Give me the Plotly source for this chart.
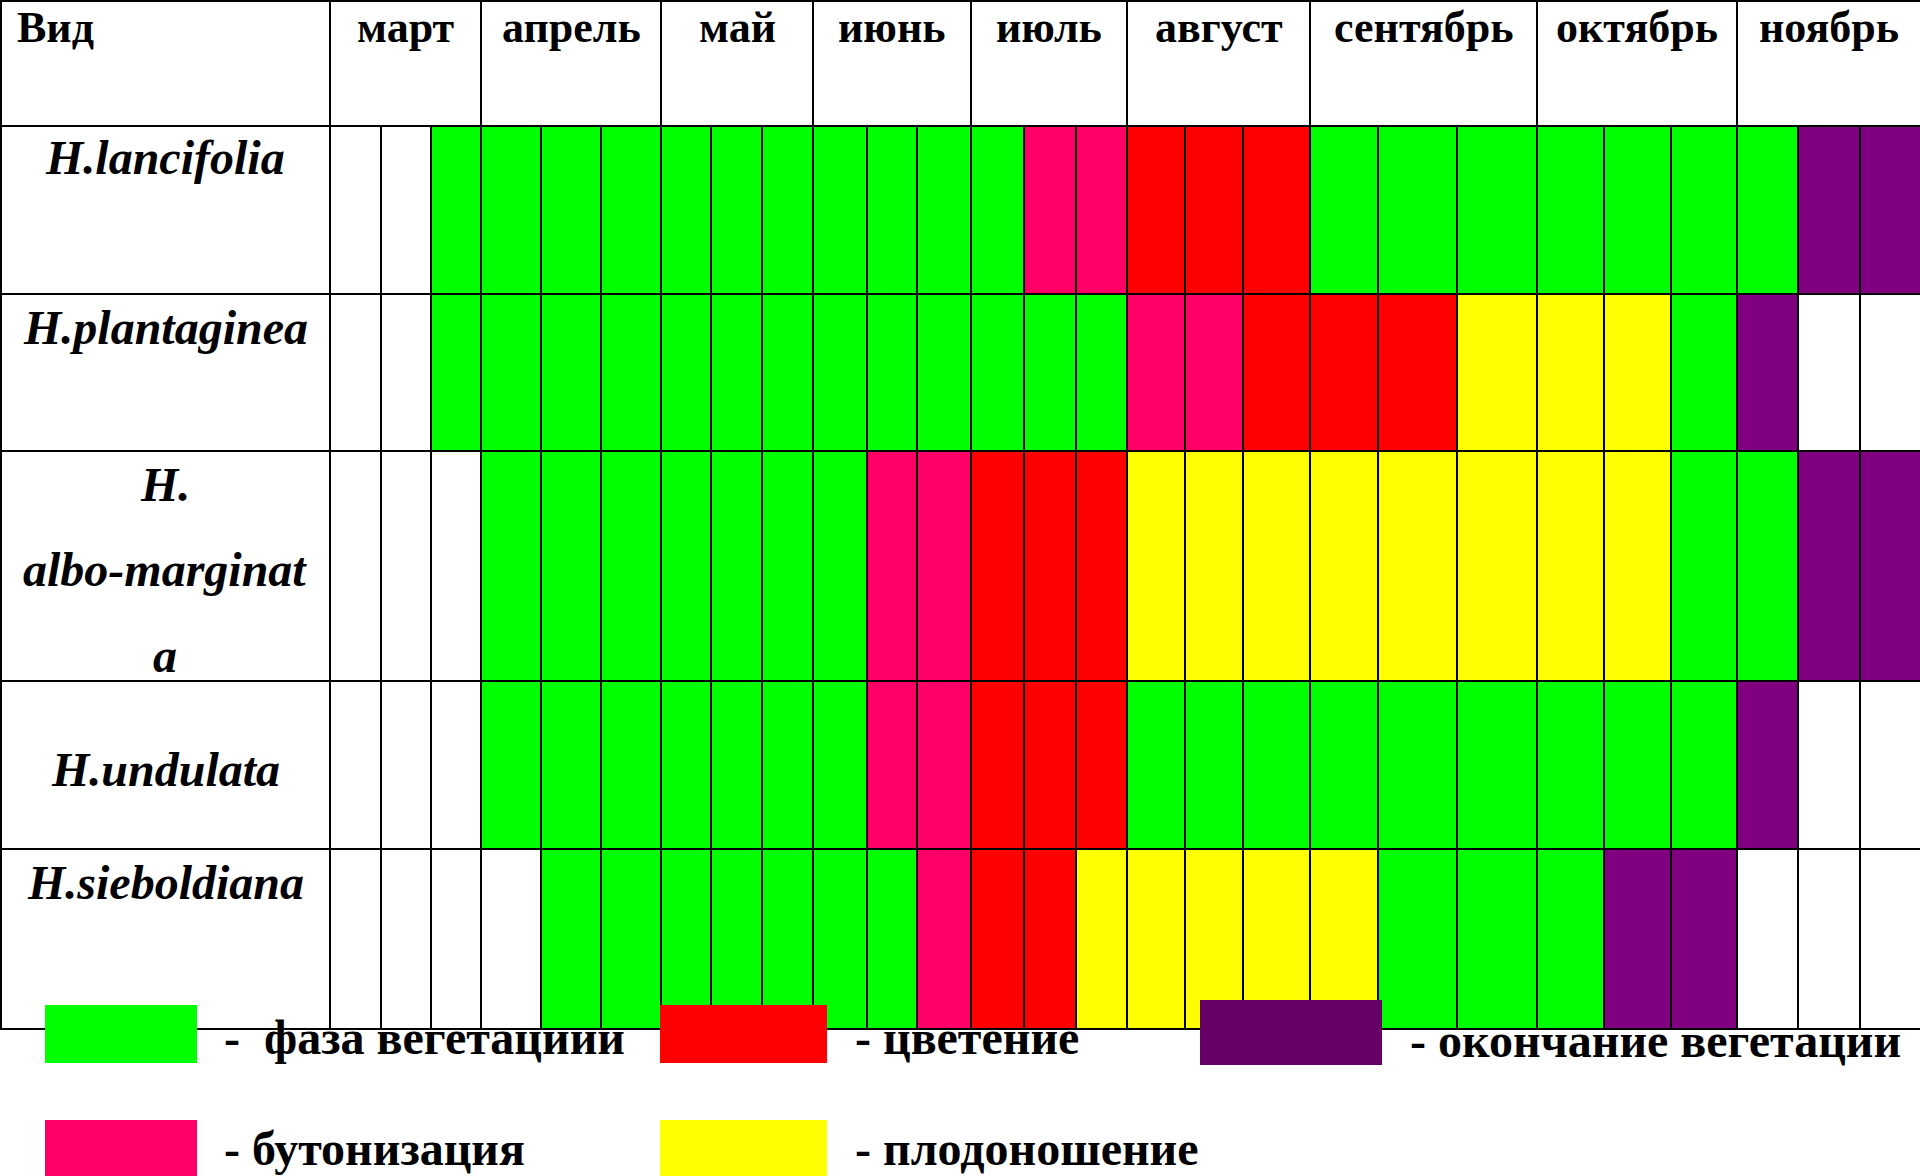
import plotly.graph_objects as go

# ---------------- data ----------------
species = ["H.lancifolia", "H.plantaginea", "H.<br>albo-marginat<br>a", "H.undulata", "H.sieboldiana"]
months = ["март", "апрель", "май", "июнь", "июль", "август", "сентябрь", "октябрь", "ноябрь"]
phase_names = ["", "- \u00a0фаза вегетациии", "- бутонизация", "- цветение", "- плодоношение", "- окончание вегетации"]
# phase per decade (3 decades per month, March..November)
# w = none, g = vegetation, p = budding, r = flowering, y = fruiting, v = end of vegetation
lancifolia   = "wwg ggg ggg ggg gpp rrr ggg ggg gvv"
plantaginea  = "wwg ggg ggg ggg ggg ppr rry yyg vww"
albo         = "www ggg ggg gpp rrr yyy yyy yyg gvv"
undulata     = "www ggg ggg gpp rrr ggg ggg ggg vww"
sieboldiana  = "www wgg ggg ggp rry yyy ygg gvv www"
rows_phase = [lancifolia, plantaginea, albo, undulata, sieboldiana]

# ---------------- styles / layout geometry ----------------
code = {"w": 0, "g": 1, "p": 2, "r": 3, "y": 4, "v": 5}
cell_colors = ["#FFFFFF", "#00FF00", "#FF0066", "#FF0000", "#FFFF00", "#800080"]
legend_colors = [None, "#00FF00", "#FF0066", "#FF0000", "#FFFF00", "#660066"]
W, H = 1920, 1176
COL_EDGES = [330, 381, 431, 481, 541, 601, 661, 711, 762, 813, 867, 917, 971, 1024,
             1076, 1127, 1185, 1243, 1310, 1378, 1457, 1537, 1604, 1671, 1737, 1798, 1860, 1920]
HEADER_BOTTOM = 126
ROW_EDGES = [126, 294, 451, 681, 849, 1029]
LINE = dict(color="black", width=2)
FONT = "Liberation Serif"

z = [[code[c] for c in r.replace(" ", "")] for r in rows_phase]

n = len(cell_colors)
cscale = []
for i, col in enumerate(cell_colors):
    cscale.append([i / n, col])
    cscale.append([(i + 1) / n, col])

fig = go.Figure()
fig.add_trace(go.Heatmap(
    z=z, x=COL_EDGES, y=ROW_EDGES, colorscale=cscale, zmin=-0.5, zmax=n - 0.5,
    showscale=False, hoverinfo="skip", zsmooth=False,
))

shapes = []
# outer borders
shapes.append(dict(type="line", x0=0, x1=W, y0=1, y1=1, line=LINE))
shapes.append(dict(type="line", x0=1, x1=1, y0=0, y1=ROW_EDGES[-1], line=LINE))
# horizontal lines
for y in ROW_EDGES:
    shapes.append(dict(type="line", x0=0, x1=W, y0=y, y1=y, line=LINE))
# vertical lines in body
for x in COL_EDGES[:-1]:
    shapes.append(dict(type="line", x0=x, x1=x, y0=ROW_EDGES[0], y1=ROW_EDGES[-1], line=LINE))
# month separators in header
for m in range(len(months)):
    x = COL_EDGES[3 * m]
    shapes.append(dict(type="line", x0=x, x1=x, y0=0, y1=HEADER_BOTTOM, line=LINE))

annotations = []
annotations.append(dict(x=15, y=27, text="<b>Вид</b>", showarrow=False, xanchor="left", yanchor="middle",
                        font=dict(family=FONT, size=44, color="black")))
for m, name in enumerate(months):
    xc = (COL_EDGES[3 * m] + COL_EDGES[3 * m + 3]) / 2
    annotations.append(dict(x=xc, y=27, text="<b>" + name + "</b>", showarrow=False, xanchor="center",
                            yanchor="middle", font=dict(family=FONT, size=44, color="black")))

label_y = [[157], [327], [484, 569, 655], [769], [882]]
for sp, ys in zip(species, label_y):
    parts = sp.split("<br>")
    for part, yy in zip(parts, ys):
        annotations.append(dict(x=165, y=yy, text="<b><i>" + part + "</i></b>", showarrow=False,
                                xanchor="center", yanchor="middle",
                                font=dict(family=FONT, size=48, color="black")))

# legend (drawn as shapes + text)
legend_items = [
    (1, 45, 197, 1005, 1063, 222, 1037),
    (3, 660, 827, 1005, 1063, 853, 1037),
    (5, 1200, 1382, 1000, 1065, 1408, 1040),
    (2, 45, 197, 1120, 1180, 222, 1148),
    (4, 660, 827, 1120, 1180, 853, 1148),
]
for k, x0, x1, y0, y1, tx, ty in legend_items:
    shapes.append(dict(type="rect", x0=x0, x1=x1, y0=y0, y1=y1, fillcolor=legend_colors[k],
                       line=dict(width=0), layer="above"))
    annotations.append(dict(x=tx, y=ty, text="<b>" + phase_names[k] + "</b>", showarrow=False,
                            xanchor="left", yanchor="middle",
                            font=dict(family=FONT, size=48, color="black")))

fig.update_layout(
    width=W, height=H, margin=dict(l=0, r=0, t=0, b=0),
    paper_bgcolor="white", plot_bgcolor="white",
    xaxis=dict(range=[0, W], visible=False, fixedrange=True),
    yaxis=dict(range=[H, 0], visible=False, fixedrange=True),
    shapes=shapes, annotations=annotations, showlegend=False,
)
fig.write_html("out.html", config={"displayModeBar": False},
               post_script="document.body.style.margin='0';document.body.style.overflow='hidden';")
